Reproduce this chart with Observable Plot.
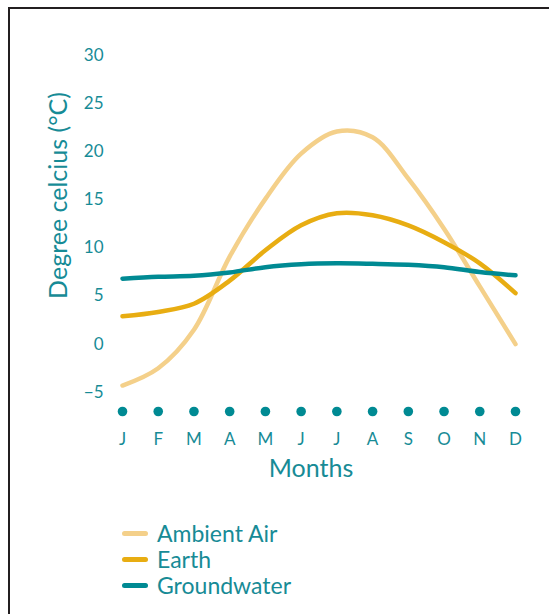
<!DOCTYPE html>
<html>
<head>
<meta charset="utf-8">
<script src="https://cdn.jsdelivr.net/npm/d3@7"></script>
<script src="https://cdn.jsdelivr.net/npm/@observablehq/plot@0.6"></script>
<style>
  html, body { margin: 0; padding: 0; background: #fff; }
  body { width: 549px; height: 614px; position: relative; overflow: hidden; font-family: Lato, "Open Sans", sans-serif; }
  #frame { position: absolute; left: 8px; top: 7px; width: 600px; height: 700px; border-left: 2px solid #231f20; border-top: 2px solid #231f20; }
  #chart { position: absolute; left: 0; top: 0; }
  #legend { position: absolute; left: 122px; top: 520px; color: #178b96; font-size: 23px; }
  .row { display: flex; align-items: center; height: 26px; }
  .sw { width: 26px; height: 5px; border-radius: 3px; margin-right: 9px; }
</style>
</head>
<body>
<div id="frame"></div>
<div id="chart"></div>
<div id="legend"></div>
<script>
const monthLabels = ["J","F","M","A","M","J","J","A","S","O","N","D"];
const seriesNames = ["Ambient Air","Earth","Groundwater"];
const seriesColors = ["#f4d08a","#e8ad12","#008a93"];
const ambientAir = [-4.3, -2.5, 1.5, 9.1, 15.1, 19.8, 22.1, 21.5, 17.2, 12.0, 6.0, 0.0];
const earth = [2.9, 3.35, 4.2, 6.6, 9.75, 12.35, 13.6, 13.4, 12.35, 10.6, 8.4, 5.3];
const groundwater = [6.8, 7.0, 7.1, 7.45, 8.0, 8.3, 8.4, 8.35, 8.25, 8.0, 7.5, 7.15];
const yTicks = [-5, 0, 5, 10, 15, 20, 25, 30];
const yLabel = "Degree celcius (°C)";
const xLabel = "Months";

const teal = "#178b96";
const seriesValues = [ambientAir, earth, groundwater];
const data = seriesNames.flatMap((s, i) => seriesValues[i].map((v, m) => ({series: s, month: m, value: v})));
const monthIdx = monthLabels.map((_, i) => i);

const chart = Plot.plot({
  width: 549,
  height: 490,
  marginTop: 55,
  marginBottom: 79,
  marginLeft: 122,
  marginRight: 34,
  style: {fontFamily: "Lato, 'Open Sans', sans-serif", color: teal, background: "transparent"},
  x: {type: "linear", domain: [0, 11]},
  y: {domain: [-7, 30]},
  color: {domain: seriesNames, range: seriesColors},
  marks: [
    Plot.axisY({ticks: yTicks, tickSize: 0, tickPadding: 19, fontSize: 17, label: null, fill: teal}),
    Plot.axisX({ticks: monthIdx, tickFormat: i => monthLabels[i], tickSize: 0, tickPadding: 21, fontSize: 17, label: null, fill: teal}),
    Plot.dot(monthIdx, {x: d => d, frameAnchor: "bottom", r: 4.8, fill: "#008a93", stroke: "none"}),
    Plot.line(data, {x: "month", y: "value", z: "series", stroke: "series", strokeWidth: 4.5, curve: "catmull-rom", strokeLinecap: "round"}),
    Plot.text([yLabel], {text: d => d, frameAnchor: "left", textAnchor: "middle", rotate: -90, dx: -64, dy: -38, fontSize: 25, fill: teal}),
    Plot.text([xLabel], {text: d => d, frameAnchor: "bottom", textAnchor: "middle", dy: 65, dx: -8, fontSize: 25, fill: teal})
  ]
});
document.getElementById("chart").appendChild(chart);

const legend = document.getElementById("legend");
seriesNames.forEach((s, i) => {
  const row = document.createElement("div");
  row.className = "row";
  const sw = document.createElement("div");
  sw.className = "sw";
  sw.style.background = seriesColors[i];
  const t = document.createElement("span");
  t.textContent = s;
  row.appendChild(sw); row.appendChild(t);
  legend.appendChild(row);
});
</script>
</body>
</html>
